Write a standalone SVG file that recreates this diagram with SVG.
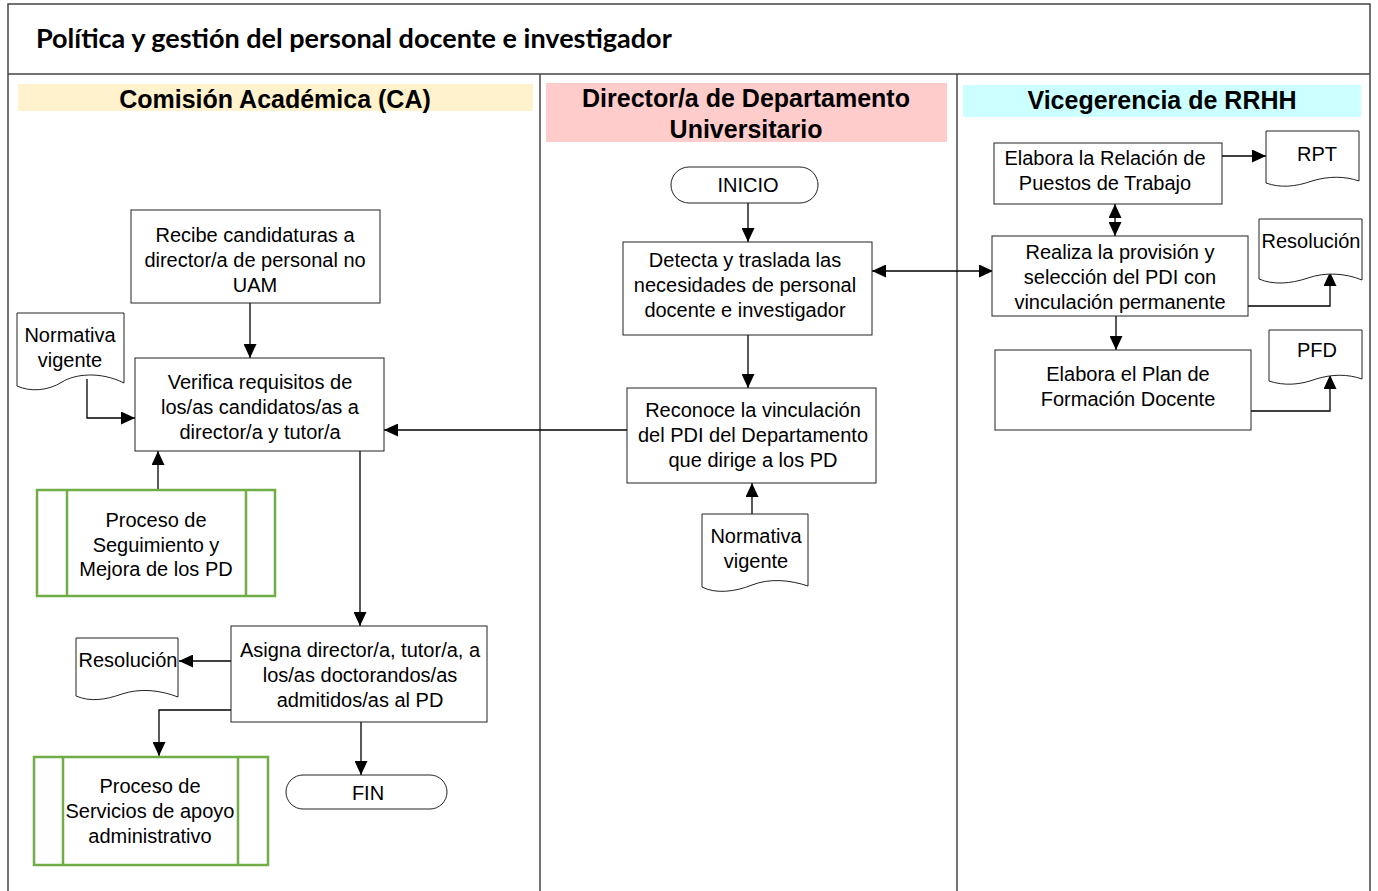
<svg xmlns="http://www.w3.org/2000/svg" width="1378" height="891" viewBox="0 0 1378 891">
<style>
.t{font-family:"Liberation Sans",Arial,sans-serif;font-size:20px;fill:#000;text-anchor:middle}
.h{font-family:"Liberation Sans",Arial,sans-serif;font-size:25px;font-weight:bold;fill:#000;text-anchor:middle}
.box{fill:#fff;stroke:#222;stroke-width:1}
.doc{fill:#fff;stroke:#222;stroke-width:1}
.proc{fill:#fff;stroke:#70AD47;stroke-width:2.5}
.c{fill:none;stroke:#000;stroke-width:1.3}
.frame{fill:none;stroke:#444;stroke-width:1.5}
</style>
<defs>
<marker id="ah" markerUnits="userSpaceOnUse" markerWidth="15" markerHeight="13" refX="14" refY="6.5" orient="auto-start-reverse" viewBox="0 0 15 13">
<path d="M0,0 L14,6.5 L0,13 z" fill="#000"/>
</marker>
</defs>
<rect x="0" y="0" width="1378" height="891" fill="#fff"/>
<g id="frame">
<path class="frame" d="M8,891 V4 H1370 V891"/>
<line class="frame" x1="8" y1="74" x2="1370" y2="74"/>
<line class="frame" x1="540" y1="74" x2="540" y2="891"/>
<line class="frame" x1="957" y1="74" x2="957" y2="891"/>
<text x="36" y="48" style="font-family:Lato,'Open Sans',sans-serif;font-size:27px;font-weight:bold;fill:#000">Política y gestión del personal docente e investigador</text>
</g>
<g id="lane-ca">
<rect x="18" y="84" width="515" height="27" fill="#FFF2CC"/>
<text class="h" x="275" y="108">Comisión Académica (CA)</text>
</g>
<g id="lane-dir">
<rect x="546" y="83" width="401" height="59" fill="#FFCCCC"/>
<text class="h" x="746" y="107">Director/a de Departamento</text>
<text class="h" x="746" y="138">Universitario</text>
</g>
<g id="lane-rrhh">
<rect x="963" y="85" width="398" height="32" fill="#CCFFFF"/>
<text class="h" x="1162" y="109">Vicegerencia de RRHH</text>
</g>

<g id="connectors">
<line class="c" x1="250" y1="303" x2="250" y2="358" marker-end="url(#ah)"/>
<polyline class="c" points="87,379 87,418 135,418" marker-end="url(#ah)"/>
<line class="c" x1="158" y1="490" x2="158" y2="451" marker-end="url(#ah)"/>
<line class="c" x1="360" y1="451" x2="360" y2="626" marker-end="url(#ah)"/>
<line class="c" x1="231" y1="661" x2="179" y2="661" marker-end="url(#ah)"/>
<polyline class="c" points="231,710 159,710 159,756" marker-end="url(#ah)"/>
<line class="c" x1="361" y1="722" x2="361" y2="775" marker-end="url(#ah)"/>
<line class="c" x1="748" y1="203" x2="748" y2="242" marker-end="url(#ah)"/>
<line class="c" x1="748" y1="335" x2="748" y2="388" marker-end="url(#ah)"/>
<line class="c" x1="627" y1="430" x2="384" y2="430" marker-end="url(#ah)"/>
<line class="c" x1="752" y1="514" x2="752" y2="483" marker-end="url(#ah)"/>
<line class="c" x1="872" y1="271" x2="993" y2="271" marker-start="url(#ah)" marker-end="url(#ah)"/>
<line class="c" x1="1222" y1="156" x2="1266" y2="156" marker-end="url(#ah)"/>
<line class="c" x1="1115" y1="204" x2="1115" y2="236" marker-start="url(#ah)" marker-end="url(#ah)"/>
<polyline class="c" points="1248,306 1330,306 1330,272" marker-end="url(#ah)"/>
<line class="c" x1="1116" y1="316" x2="1116" y2="350" marker-end="url(#ah)"/>
<polyline class="c" points="1251,411 1330,411 1330,375" marker-end="url(#ah)"/>
</g>

<g id="recibe">
<rect class="box" x="131" y="210" width="249" height="93"/>
<text class="t" x="255" y="242">Recibe candidaturas a</text>
<text class="t" x="255" y="267">director/a de personal no</text>
<text class="t" x="255" y="292">UAM</text>
</g>
<g id="normativa1">
<path class="doc" d="M17,313 H124 V383 C100,371 75,374 62,382 C48,391 30,392 17,386 Z"/>
<text class="t" x="70" y="342">Normativa</text>
<text class="t" x="70" y="367">vigente</text>
</g>
<g id="verifica">
<rect class="box" x="135" y="358" width="249" height="93"/>
<text class="t" x="260" y="389">Verifica requisitos de</text>
<text class="t" x="260" y="414">los/as candidatos/as a</text>
<text class="t" x="260" y="439">director/a y tutor/a</text>
</g>
<g id="seguimiento">
<rect class="proc" x="37" y="490" width="238" height="106"/>
<line class="proc" x1="67" y1="490" x2="67" y2="596"/>
<line class="proc" x1="246" y1="490" x2="246" y2="596"/>
<text class="t" x="156" y="527">Proceso de</text>
<text class="t" x="156" y="552">Seguimiento y</text>
<text class="t" x="156" y="576">Mejora de los PD</text>
</g>
<g id="asigna">
<rect class="box" x="231" y="626" width="256" height="96"/>
<text class="t" x="360" y="657">Asigna director/a, tutor/a, a</text>
<text class="t" x="360" y="682">los/as doctorandos/as</text>
<text class="t" x="360" y="707">admitidos/as al PD</text>
</g>
<g id="resolucion1">
<path class="doc" d="M76,638 H178 V697 C160,690 140,688 122,694 C105,700 90,702 76,696 Z"/>
<text class="t" x="128" y="667">Resolución</text>
</g>
<g id="servicios">
<rect class="proc" x="34" y="757" width="234" height="108"/>
<line class="proc" x1="63" y1="757" x2="63" y2="865"/>
<line class="proc" x1="238" y1="757" x2="238" y2="865"/>
<text class="t" x="150" y="793">Proceso de</text>
<text class="t" x="150" y="818">Servicios de apoyo</text>
<text class="t" x="150" y="843">administrativo</text>
</g>
<g id="fin">
<rect class="box" x="286" y="775" width="161" height="34" rx="17" ry="17"/>
<text class="t" x="368" y="800">FIN</text>
</g>

<g id="inicio">
<rect class="box" x="671" y="167" width="147" height="36" rx="18" ry="18"/>
<text class="t" x="748" y="192">INICIO</text>
</g>
<g id="detecta">
<rect class="box" x="623" y="242" width="249" height="93"/>
<text class="t" x="745" y="267">Detecta y traslada las</text>
<text class="t" x="745" y="292">necesidades de personal</text>
<text class="t" x="745" y="317">docente e investigador</text>
</g>
<g id="reconoce">
<rect class="box" x="627" y="388" width="249" height="95"/>
<text class="t" x="753" y="417">Reconoce la vinculación</text>
<text class="t" x="753" y="442">del PDI del Departamento</text>
<text class="t" x="753" y="467">que dirige a los PD</text>
</g>
<g id="normativa2">
<path class="doc" d="M702,514 H808 V586 C790,580 770,578 752,585 C735,592 715,594 702,587 Z"/>
<text class="t" x="756" y="543">Normativa</text>
<text class="t" x="756" y="568">vigente</text>
</g>

<g id="elabora-rpt">
<rect class="box" x="994" y="143" width="228" height="61"/>
<text class="t" x="1105" y="165">Elabora la Relación de</text>
<text class="t" x="1105" y="190">Puestos de Trabajo</text>
</g>
<g id="rpt">
<path class="doc" d="M1266,131 H1359 V181 C1345,176 1328,176 1312,181 C1295,187 1280,188 1266,183 Z"/>
<text class="t" x="1317" y="161">RPT</text>
</g>
<g id="realiza">
<rect class="box" x="992" y="236" width="256" height="80"/>
<text class="t" x="1120" y="259">Realiza la provisión y</text>
<text class="t" x="1120" y="284">selección del PDI con</text>
<text class="t" x="1120" y="309">vinculación permanente</text>
</g>
<g id="resolucion2">
<path class="doc" d="M1259,219 H1362 V280 C1345,273 1325,272 1308,278 C1290,284 1273,285 1259,279 Z"/>
<text class="t" x="1311" y="248">Resolución</text>
</g>
<g id="elabora-plan">
<rect class="box" x="995" y="350" width="256" height="80"/>
<text class="t" x="1128" y="381">Elabora el Plan de</text>
<text class="t" x="1128" y="406">Formación Docente</text>
</g>
<g id="pfd">
<path class="doc" d="M1269,330 H1362 V379 C1348,374 1332,374 1316,379 C1300,385 1284,386 1269,381 Z"/>
<text class="t" x="1317" y="357">PFD</text>
</g>
</svg>
